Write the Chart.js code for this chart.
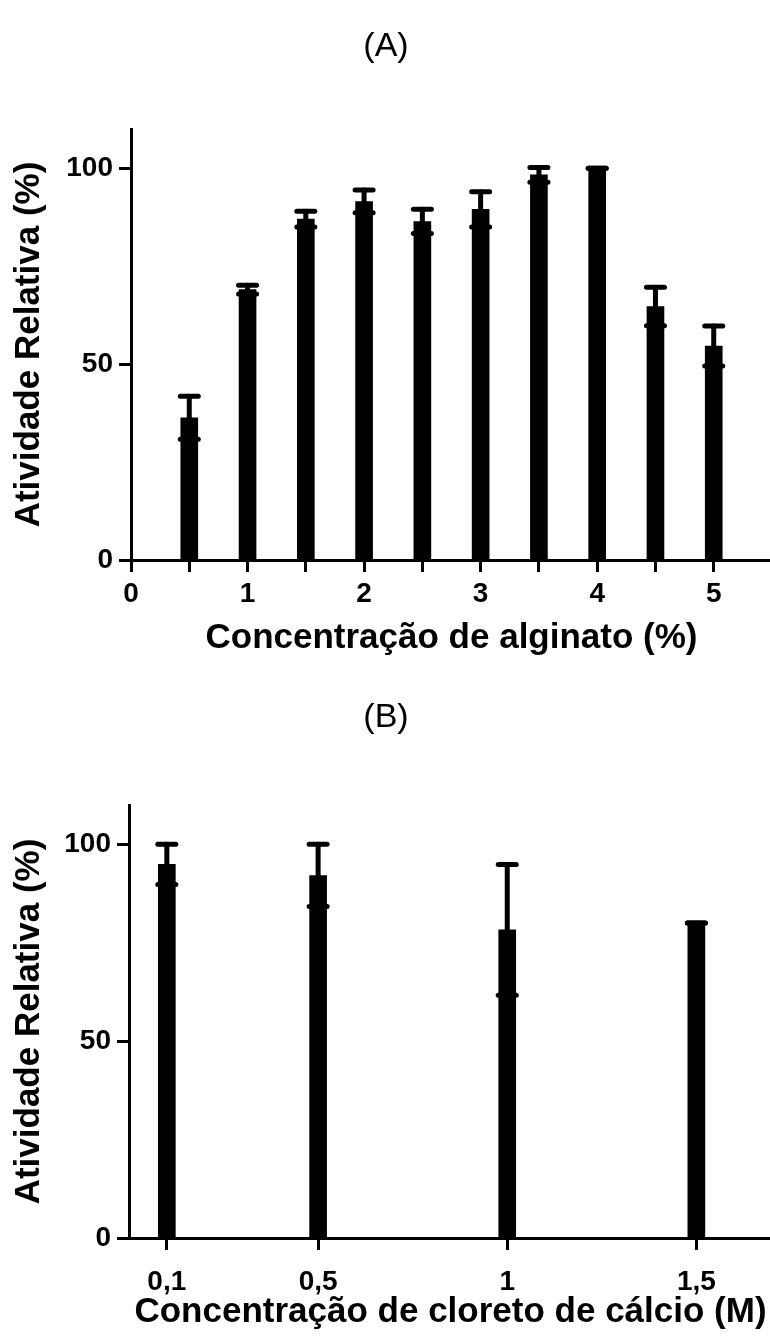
<!DOCTYPE html>
<html>
<head>
<meta charset="utf-8">
<script src="https://cdn.jsdelivr.net/npm/chart.js@4.4.1/dist/chart.umd.min.js"></script>
<style>
  body { margin: 0; background: #fff; overflow: hidden; }
  .panel { position: relative; width: 782px; }
  #panelA { height: 670px; }
  #panelB { height: 667px; }
</style>
</head>
<body>
<div class="panel" id="panelA"><canvas id="chartA"></canvas></div>
<div class="panel" id="panelB"><canvas id="chartB"></canvas></div>
<script>
//alginate concentration (%) vs relative activity
const alginateConc = [0.5, 1, 1.5, 2, 2.5, 3, 3.5, 4, 4.5, 5];
const alginateActivity = [36.3, 69, 87, 91.5, 86.4, 89.5, 98.3, 100, 64.7, 54.6];
const alginateSD = [5.5, 1.1, 2, 2.9, 3.1, 4.5, 1.9, 0, 4.9, 5.1];
const alginateTicks = [0, 0.5, 1, 1.5, 2, 2.5, 3, 3.5, 4, 4.5, 5, 5.5];
const alginateTickLabels = ["0", "", "1", "", "2", "", "3", "", "4", "", "5", ""];

//calcium chloride (M) vs relative activity
const calciumConc = [0.1, 0.5, 1, 1.5];
const calciumActivity = [94.9, 92.1, 78.3, 80];
const calciumSD = [5.1, 7.9, 16.6, 0];
const calciumTicks = [0.1, 0.5, 1, 1.5];
const calciumTickLabels = ["0,1", "0,5", "1", "1,5"];

const activityTicks = [0, 50, 100];

const FONT = "'Liberation Sans', Arial, sans-serif";

//mean +/- SD whiskers with caps on both ends
const errorBars = {
    id: "errorBars",
    afterDatasetsDraw(chart, args, opts) {
        const { ctx } = chart;
        const x = chart.scales.x;
        const y = chart.scales.y;
        const data = chart.data.datasets[0].data;
        ctx.save();
        ctx.strokeStyle = "#000";
        ctx.lineCap = "round";
        data.forEach((pt, i) => {
            const sd = opts.sd[i];
            const px = x.getPixelForValue(pt.x);
            const hi = y.getPixelForValue(pt.y + sd);
            const lo = y.getPixelForValue(pt.y - sd);
            ctx.lineWidth = opts.stem;
            ctx.beginPath();
            ctx.moveTo(px, hi);
            ctx.lineTo(px, lo);
            ctx.stroke();
            ctx.lineWidth = opts.capWidth;
            [hi, lo].forEach(cy => {
                ctx.beginPath();
                ctx.moveTo(px - opts.cap / 2, cy);
                ctx.lineTo(px + opts.cap / 2, cy);
                ctx.stroke();
            });
        });
        ctx.restore();
    }
};

function makeChart(id, o) {
    const points = o.conc.map((c, i) => ({ x: c, y: o.values[i] }));
    return new Chart(document.getElementById(id), {
        type: "bar",
        data: {
            datasets: [{
                data: points,
                backgroundColor: "#000",
                borderWidth: 0,
                barThickness: 17
            }]
        },
        plugins: [errorBars],
        options: {
            responsive: true,
            maintainAspectRatio: false,
            animation: false,
            layout: { padding: { left: 0, right: 10, top: 0, bottom: 0 } },
            plugins: {
                legend: { display: false },
                tooltip: { enabled: false },
                title: {
                    display: true,
                    text: o.title,
                    color: "#000",
                    font: { family: FONT, size: 34, weight: "normal" },
                    padding: o.titlePad
                },
                errorBars: { sd: o.sd, stem: 5, cap: 18, capWidth: 5 }
            },
            scales: {
                x: {
                    type: "linear",
                    min: 0,
                    max: o.xMax,
                    offset: false,
                    afterFit: s => { s.height = o.xHeight; },
                    afterBuildTicks: s => { s.ticks = o.ticks.map(v => ({ value: v })); },
                    ticks: {
                        callback: (v, i) => o.tickLabels[i],
                        color: "#000",
                        font: { family: FONT, size: 28, weight: "bold" },
                        padding: o.xTickPad,
                        maxRotation: 0,
                        autoSkip: false
                    },
                    grid: { offset: false, drawOnChartArea: false, drawTicks: true, tickLength: 12, tickWidth: 3, color: "#000" },
                    border: { display: true, color: "#000", width: 3 },
                    title: {
                        display: true,
                        text: o.xTitle,
                        color: "#000",
                        font: { family: FONT, size: 35, weight: "bold" },
                        padding: { top: 4, bottom: o.xTitlePad }
                    }
                },
                y: {
                    min: 0,
                    max: 110,
                    afterFit: s => { s.width = o.yWidth; },
                    afterBuildTicks: s => { s.ticks = activityTicks.map(v => ({ value: v })); },
                    ticks: {
                        color: "#000",
                        font: { family: FONT, size: 28, weight: "bold" },
                        padding: 6
                    },
                    grid: { drawOnChartArea: false, drawTicks: true, tickLength: 12, tickWidth: 3, color: "#000" },
                    border: { display: true, color: "#000", width: 3 },
                    title: {
                        display: true,
                        text: "Atividade Relativa (%)",
                        color: "#000",
                        font: { family: FONT, size: 35, weight: "bold" },
                        padding: { top: 8 }
                    }
                }
            }
        }
    });
}

makeChart("chartA", {
    title: "(A)",
    titlePad: { top: 26, bottom: 62.2 },
    conc: alginateConc,
    values: alginateActivity,
    sd: alginateSD,
    ticks: alginateTicks,
    tickLabels: alginateTickLabels,
    xMax: 5.5,
    xHeight: 110,
    xTickPad: 5,
    xTitle: "Concentração de alginato (%)",
    xTitlePad: 11,
    yWidth: 131
});

makeChart("chartB", {
    title: "(B)",
    titlePad: { top: 27, bottom: 67.2 },
    conc: calciumConc,
    values: calciumActivity,
    sd: calciumSD,
    ticks: calciumTicks,
    tickLabels: calciumTickLabels,
    xMax: 1.7,
    xHeight: 99,
    xTickPad: 15,
    xTitle: "Concentração de cloreto de cálcio (M)",
    xTitlePad: 4,
    yWidth: 129
});
</script>
</body>
</html>
